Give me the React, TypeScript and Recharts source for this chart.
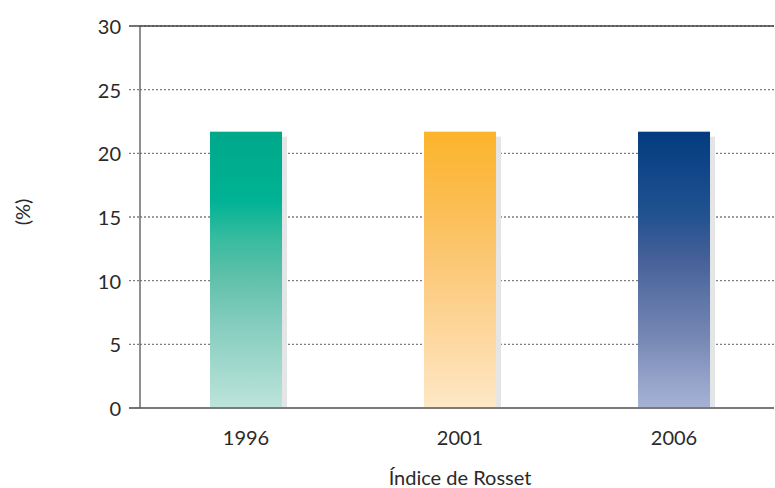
import React from 'react';
import {
  BarChart,
  Bar,
  XAxis,
  YAxis,
  CartesianGrid,
  ReferenceLine,
  Label,
} from 'recharts';

// Índice de Rosset por año de censo (%)
const years = [1996, 2001, 2006];
const rossetValues = [21.7, 21.7, 21.7];
const yTicks = [0, 5, 10, 15, 20, 25, 30];

const data = years.map((year, i) => ({ year, value: rossetValues[i] }));

const FONT = 'Lato, "Open Sans", sans-serif';
const TEXT = '#2a2a2a';
const FS = 20;

// Gradient stops per bar (top -> bottom)
const gradients: Record<number, [number, string][]> = {
  1996: [
    [0, '#00a88a'],
    [0.25, '#00b394'],
    [0.38, '#35bb9f'],
    [0.52, '#5ec0a9'],
    [0.7, '#85cdbf'],
    [1, '#bde4da'],
  ],
  2001: [
    [0, '#fbb42a'],
    [0.25, '#fbbd50'],
    [0.5, '#fcc97a'],
    [0.75, '#fdd8a0'],
    [1, '#fde8c6'],
  ],
  2006: [
    [0, '#033c7e'],
    [0.15, '#12478a'],
    [0.3, '#21528f'],
    [0.45, '#445f98'],
    [0.6, '#5d74a6'],
    [0.75, '#7788b5'],
    [0.9, '#95a3c9'],
    [1, '#a6b2d5'],
  ],
};

const ShadowBar = (props: any) => {
  const { x, y, width, height, payload } = props;
  if (!height || height <= 0) return null;
  return (
    <g>
      <rect x={x + 5} y={y + 5} width={width} height={height - 5} fill="#e4e5e7" />
      <rect x={x} y={y} width={width} height={height} fill={`url(#grad-${payload.year})`} />
    </g>
  );
};

const YTick = (props: any) => {
  const { x, y, payload } = props;
  const solid = payload.value === 0 || payload.value === 30;
  return (
    <g>
      <line
        x1={x - 11}
        x2={x}
        y1={y}
        y2={y}
        stroke={solid ? '#444' : '#7e7e7e'}
        strokeWidth={solid ? 1.5 : 1.3}
        strokeDasharray={solid ? undefined : '2 2'}
      />
      <text
        x={x - 19}
        y={y}
        textAnchor="end"
        dominantBaseline="central"
        fontFamily={FONT}
        fontSize={FS}
        fill={TEXT}
      >
        {payload.value}
      </text>
    </g>
  );
};

const XTick = (props: any) => {
  const { x, y, payload } = props;
  return (
    <text
      x={x}
      y={y + 29}
      textAnchor="middle"
      dominantBaseline="central"
      fontFamily={FONT}
      fontSize={FS}
      fill={TEXT}
    >
      {payload.value}
    </text>
  );
};

export default function App() {
  return (
    <div style={{ position: 'absolute', left: 0, top: 0, width: 775, height: 488, background: '#fff' }}>
      <BarChart
        width={775}
        height={488}
        data={data}
        margin={{ top: 26, right: 1, bottom: 0, left: 0 }}
      >
        <defs>
          {years.map((yr) => (
            <linearGradient key={yr} id={`grad-${yr}`} x1="0" y1="0" x2="0" y2="1">
              {gradients[yr].map(([o, c]) => (
                <stop key={o} offset={o} stopColor={c} />
              ))}
            </linearGradient>
          ))}
        </defs>
        <CartesianGrid
          vertical={false}
          stroke="#7e7e7e"
          strokeWidth={1.3}
          strokeDasharray="2 2"
        />
        <XAxis
          dataKey="year"
          type="number"
          domain={[1993.523, 2008.336]}
          ticks={years}
          allowDataOverflow
          height={80}
          tickSize={0}
          tickMargin={0}
          tickLine={false}
          axisLine={{ stroke: '#7a7a7a', strokeWidth: 2 }}
          tick={<XTick />}
        >
          <Label
            content={(p: any) => {
              const vb = p.viewBox || { x: 140, y: 408, width: 634, height: 80 };
              return (
                <text
                  x={460}
                  y={vb.y + 69}
                  textAnchor="middle"
                  dominantBaseline="central"
                  fontFamily={FONT}
                  fontSize={FS}
                  fill={TEXT}
                >
                  Índice de Rosset
                </text>
              );
            }}
          />
        </XAxis>
        <YAxis
          type="number"
          domain={[0, 30]}
          ticks={yTicks}
          width={140}
          tickSize={0}
          tickMargin={0}
          tickLine={false}
          axisLine={{ stroke: '#6b6b6b', strokeWidth: 1.5 }}
          tick={<YTick />}
        >
          <Label
            content={(p: any) => {
              const vb = p.viewBox || { x: 0, y: 26, width: 140, height: 382 };
              const cy = vb.y + vb.height / 2 - 5;
              return (
                <text
                  x={22}
                  y={cy}
                  transform={`rotate(-90 22 ${cy})`}
                  textAnchor="middle"
                  dominantBaseline="central"
                  fontFamily={FONT}
                  fontSize={FS}
                  fill={TEXT}
                >
                  (%)
                </text>
              );
            }}
          />
        </YAxis>
        <ReferenceLine y={30} stroke="#444" strokeWidth={1.5} />
        <Bar dataKey="value" barSize={72} shape={<ShadowBar />} isAnimationActive={false} />
      </BarChart>
    </div>
  );
}
